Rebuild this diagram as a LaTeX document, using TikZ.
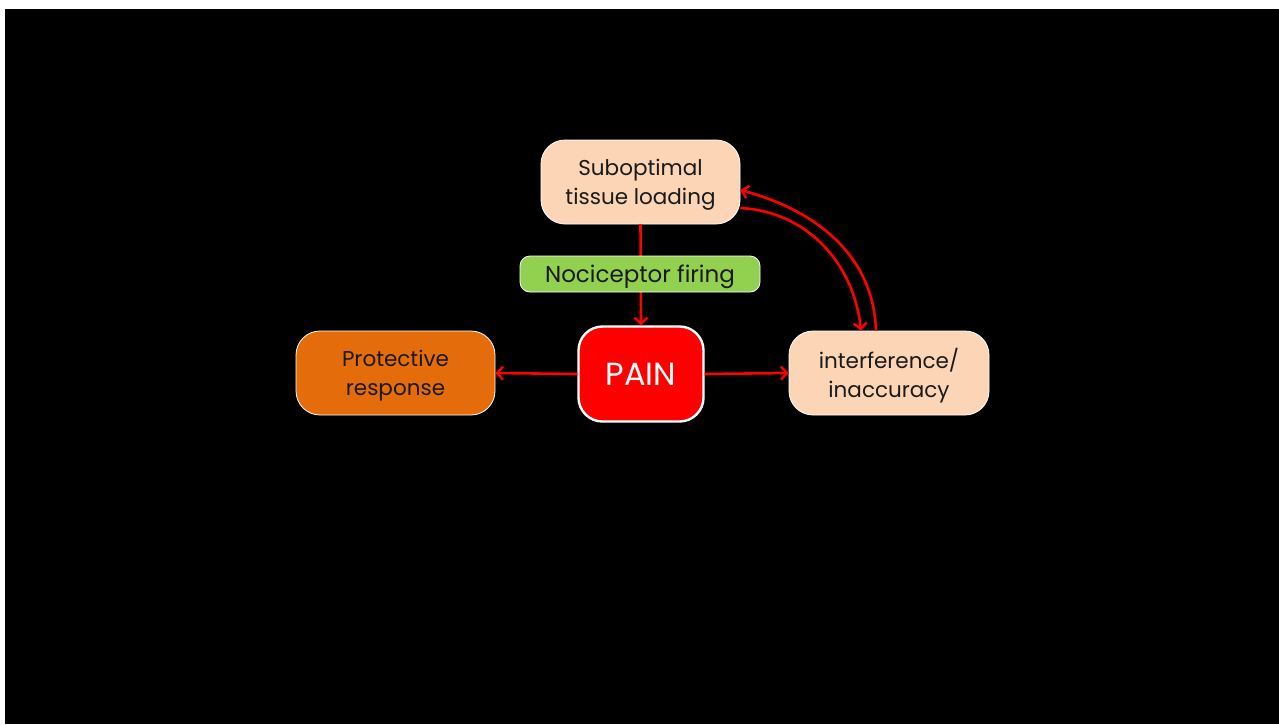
\documentclass[tikz,border=0pt]{standalone}
\usepackage{fontspec}
\setmainfont{Poppins}
\usetikzlibrary{arrows.meta}
\definecolor{peach}{HTML}{FBD5B5}
\definecolor{leaf}{HTML}{92D050}
\definecolor{rust}{HTML}{E46C0A}
\definecolor{alarm}{HTML}{FF0000}
\definecolor{ink}{HTML}{1A1A1A}
\begin{document}
\begin{tikzpicture}[x=1pt,y=-1pt,
  box/.style={draw=white, line width=0.8pt, rounded corners=24pt, align=center,
    text=ink, font=\fontsize{21.5}{29}\selectfont, inner sep=0pt, text depth=0pt},
  link/.style={draw=alarm, line width=2.6pt, -{Straight Barb[length=6pt,width=13pt,line width=2.4pt]}}]
  \useasboundingbox (0,0) rectangle (1279,724);
  \fill[white] (0,0) rectangle (1279,724);
  \fill[black] (5,9) rectangle (1279,724);

  \node[box, fill=peach, minimum width=199pt, minimum height=84pt] (sub) at (640.5,182) {Suboptimal\\tissue loading};
  \node[box, fill=alarm, text=white, line width=2.4pt, minimum width=125pt, minimum height=95pt,
        font=\fontsize{32}{36}\selectfont, text depth=-4pt] (pain) at (641,374) {PAIN};
  \node[box, fill=rust, minimum width=199pt, minimum height=84pt] (prot) at (395.5,373) {Protective\\response};
  \node[box, fill=peach, minimum width=200pt, minimum height=84pt] (intf) at (889,373) {interference/\\inaccuracy};

  % the firing arrow runs behind the green label
  \draw[link] (sub.south) -- (pain.north);
  \node[box, fill=leaf, rounded corners=10pt, minimum width=240pt, minimum height=36pt,
        font=\fontsize{23}{25}\selectfont] (noc) at (640,274) {Nociceptor firing};

  \draw[link] (pain.west) -- (prot.east);
  \draw[link] (pain.east) -- (intf.west);
  \draw[link] ([yshift=-26pt]sub.east) to[out=-3, in=96] ([xshift=-28pt]intf.north);
  \draw[link] ([xshift=-13pt]intf.north) to[out=92, in=-15] ([yshift=-8pt]sub.east);
\end{tikzpicture}
\end{document}
